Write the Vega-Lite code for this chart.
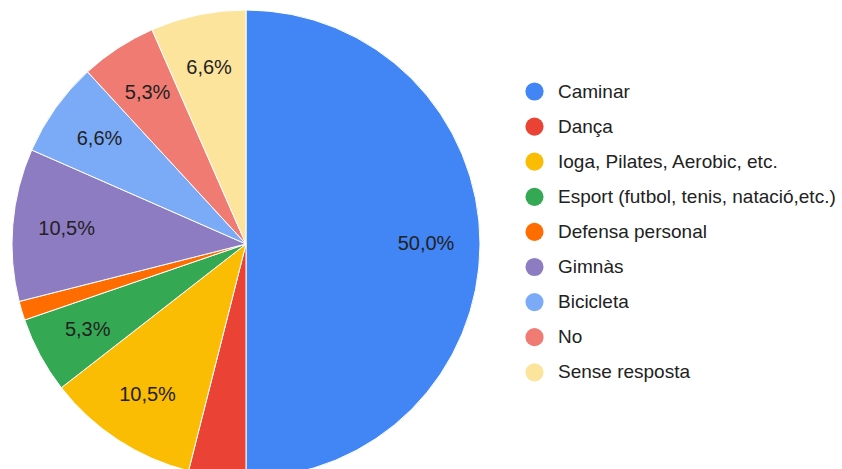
{
  "$schema": "https://vega.github.io/schema/vega-lite/v6.json",
  "width": 492,
  "height": 488,
  "padding": 0,
  "autosize": {"type": "pad"},
  "background": "white",
  "data": {
    "values": [
      {"idx": 1, "category": "Caminar", "count": 38, "label": "50,0%"},
      {"idx": 2, "category": "Dança", "count": 3, "label": ""},
      {"idx": 3, "category": "Ioga, Pilates, Aerobic, etc.", "count": 8, "label": "10,5%"},
      {"idx": 4, "category": "Esport (futbol, tenis, natació,etc.)", "count": 4, "label": "5,3%"},
      {"idx": 5, "category": "Defensa personal", "count": 1, "label": ""},
      {"idx": 6, "category": "Gimnàs", "count": 8, "label": "10,5%"},
      {"idx": 7, "category": "Bicicleta", "count": 5, "label": "6,6%"},
      {"idx": 8, "category": "No", "count": 4, "label": "5,3%"},
      {"idx": 9, "category": "Sense resposta", "count": 5, "label": "6,6%"}
    ]
  },
  "encoding": {
    "theta": {"field": "count", "type": "quantitative", "stack": true},
    "order": {"field": "idx", "type": "quantitative"}
  },
  "layer": [
    {
      "mark": {"type": "arc", "outerRadius": 234, "stroke": "white", "strokeWidth": 1},
      "encoding": {
        "color": {
          "field": "category",
          "type": "nominal",
          "sort": null,
          "scale": {
            "domain": ["Caminar", "Dança", "Ioga, Pilates, Aerobic, etc.", "Esport (futbol, tenis, natació,etc.)", "Defensa personal", "Gimnàs", "Bicicleta", "No", "Sense resposta"],
            "range": ["#4285f4", "#ea4335", "#fbbc04", "#34a853", "#ff6d01", "#8e7cc3", "#7baaf7", "#f07b72", "#fde49c"]
          },
          "legend": {
            "title": null,
            "orient": "none",
            "legendX": 525,
            "legendY": 82,
            "symbolType": "circle",
            "symbolSize": 330,
            "symbolStrokeWidth": 0,
            "labelFont": "Liberation Sans",
            "labelFontSize": 19,
            "labelColor": "#222222",
            "labelOffset": 14,
            "rowPadding": 15.1,
            "padding": 0,
            "labelLimit": 400
          }
        }
      }
    },
    {
      "mark": {"type": "text", "radius": 180, "font": "Liberation Sans", "fontSize": 20, "color": "#222222"},
      "encoding": {
        "text": {"field": "label", "type": "nominal"}
      }
    }
  ],
  "config": {"view": {"stroke": null}}
}
